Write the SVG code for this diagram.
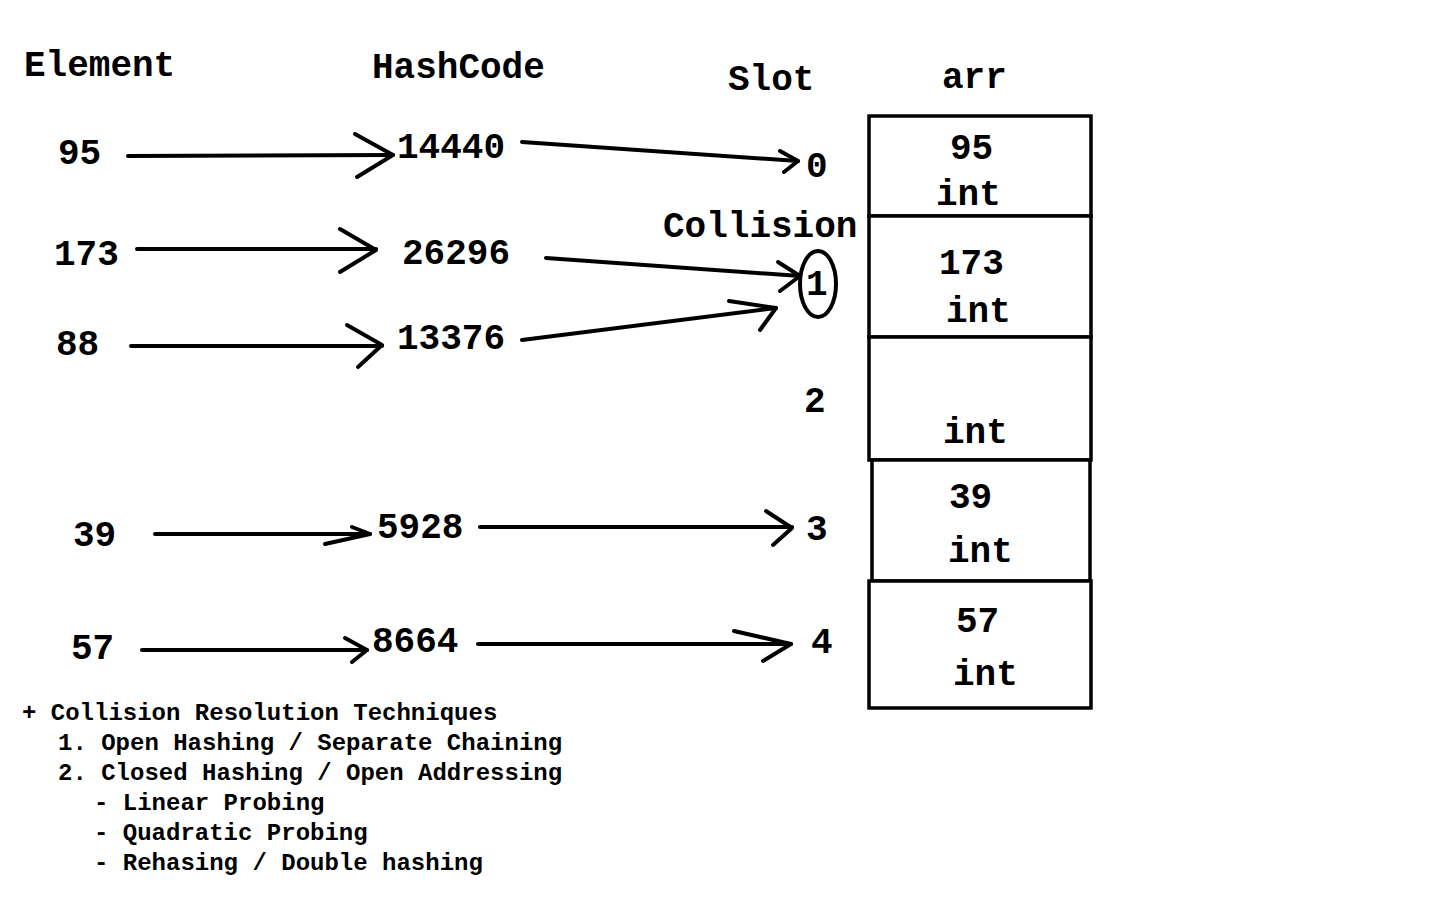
<svg xmlns="http://www.w3.org/2000/svg" width="1440" height="900" viewBox="0 0 1440 900">
<style>
.t{font-family:"Liberation Mono","Courier New",monospace;font-weight:bold;font-size:36px;fill:#000}
.s{font-family:"Liberation Mono","Courier New",monospace;font-weight:bold;font-size:24px;fill:#000}
.ln{fill:none;stroke:#000;stroke-width:4;stroke-linecap:round;stroke-linejoin:round}
.cell{fill:#fff;stroke:#000;stroke-width:3.5}
</style>
<rect width="1440" height="900" fill="#fff"/>
<g id="headers">
<text class="t" x="24" y="76">Element</text>
<text class="t" x="372" y="78">HashCode</text>
<text class="t" x="728" y="90">Slot</text>
<text class="t" x="942" y="88">arr</text>
</g>
<g id="elements">
<text class="t" x="58" y="164">95</text>
<text class="t" x="54" y="265">173</text>
<text class="t" x="56" y="355">88</text>
<text class="t" x="73" y="546">39</text>
<text class="t" x="71" y="659">57</text>
</g>
<g id="hashcodes">
<text class="t" x="397" y="158">14440</text>
<text class="t" x="402" y="264">26296</text>
<text class="t" x="397" y="349">13376</text>
<text class="t" x="377" y="538">5928</text>
<text class="t" x="372" y="652">8664</text>
</g>
<g id="slots">
<text class="t" x="806" y="177">0</text>
<text class="t" x="663" y="237">Collision</text>
<ellipse cx="818" cy="284" rx="18" ry="33" class="ln" stroke-width="3"/>
<text class="t" x="806" y="295">1</text>
<text class="t" x="804" y="412">2</text>
<text class="t" x="806" y="540">3</text>
<text class="t" x="811" y="653">4</text>
</g>
<g id="arr">
<rect class="cell" x="869" y="116" width="222" height="100"/>
<rect class="cell" x="869" y="216" width="222" height="121"/>
<rect class="cell" x="869" y="337" width="222" height="123"/>
<rect class="cell" x="872" y="460" width="218" height="121"/>
<rect class="cell" x="869" y="581" width="222" height="127"/>
<text class="t" x="950" y="159">95</text>
<text class="t" x="936" y="205">int</text>
<text class="t" x="939" y="274">173</text>
<text class="t" x="946" y="322">int</text>
<text class="t" x="943" y="443">int</text>
<text class="t" x="949" y="508">39</text>
<text class="t" x="948" y="562">int</text>
<text class="t" x="956" y="632">57</text>
<text class="t" x="953" y="685">int</text>
</g>
<g id="connectors">
<polyline class="ln" points="128,156 393,155"/>
<polyline class="ln" points="355,134 393,155 357,177"/>
<polyline class="ln" points="137,249 376,249"/>
<polyline class="ln" points="340,229 376,250 340,272"/>
<polyline class="ln" points="131,346 382,346"/>
<polyline class="ln" points="347,325 382,345 358,367"/>
<polyline class="ln" points="522,142 798,161"/>
<polyline class="ln" points="780,151 798,161 784,172"/>
<polyline class="ln" points="546,258 800,276"/>
<polyline class="ln" points="778,262 800,276 780,291"/>
<polyline class="ln" points="522,340 776,308"/>
<polyline class="ln" points="729,301 776,308 760,330"/>
<polyline class="ln" points="155,534 370,534"/>
<polyline class="ln" points="325,544 370,534 352,527"/>
<polyline class="ln" points="480,527 792,527"/>
<polyline class="ln" points="766,511 792,528 773,545"/>
<polyline class="ln" points="142,650 367,650"/>
<polyline class="ln" points="345,638 367,650 352,662"/>
<polyline class="ln" points="478,644 791,644"/>
<polyline class="ln" points="734,631 791,644 763,661"/>
</g>
<g id="notes">
<text class="s" x="22" y="720">+ Collision Resolution Techniques</text>
<text class="s" x="58" y="750">1. Open Hashing / Separate Chaining</text>
<text class="s" x="58" y="780">2. Closed Hashing / Open Addressing</text>
<text class="s" x="94" y="810">- Linear Probing</text>
<text class="s" x="94" y="840">- Quadratic Probing</text>
<text class="s" x="94" y="870">- Rehasing / Double hashing</text>
</g>
</svg>
